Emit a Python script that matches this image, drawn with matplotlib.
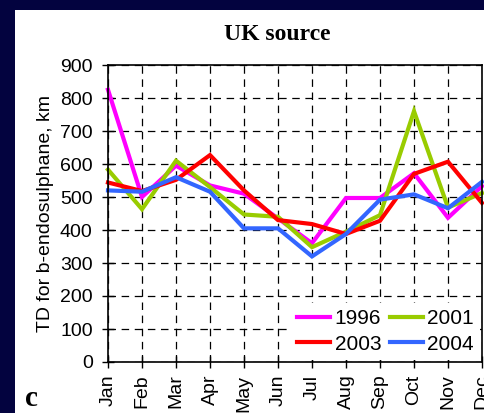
import matplotlib
matplotlib.use("Agg")
import matplotlib.pyplot as plt
from matplotlib.patches import Rectangle

# months on the x axis
MONTHS = ["Jan", "Feb", "Mar", "Apr", "May", "Jun",
          "Jul", "Aug", "Sep", "Oct", "Nov", "Dec"]

# TD values
td_1996 = [825, 500, 595, 535, 510, 435, 360, 497, 497, 572, 437, 533]
td_2001 = [583, 463, 610, 530, 447, 440, 348, 395, 445, 760, 468, 512]
td_2003 = [544, 518, 552, 627, 520, 430, 418, 388, 428, 570, 607, 482]
td_2004 = [520, 516, 560, 516, 405, 405, 320, 388, 492, 508, 466, 546]

YEARS = ["1996", "2001", "2003", "2004"]
COLORS = ["#FF00FF", "#99CC00", "#FF0000", "#3366FF"]

NAVY = "#03033f"


def main():
    fig = plt.figure(figsize=(4.85, 4.13), dpi=100, facecolor="white")

    # dark slide border on the left and top
    fig.patches.append(Rectangle((0, 0), 15 / 485, 1, transform=fig.transFigure,
                                 facecolor=NAVY, edgecolor="none", zorder=0))
    fig.patches.append(Rectangle((0, 1 - 10 / 413), 1, 10 / 413,
                                 transform=fig.transFigure,
                                 facecolor=NAVY, edgecolor="none", zorder=0))

    ax = fig.add_axes([108 / 485, 51 / 413, 374 / 485, 297 / 413])

    x = list(range(len(MONTHS)))
    series = [td_1996, td_2001, td_2003, td_2004]
    lines = []
    for vals, year, col in zip(series, YEARS, COLORS):
        ln, = ax.plot(x, vals, color=col, lw=3, label=year,
                      solid_joinstyle="miter", clip_on=False)
        lines.append(ln)

    ax.set_xlim(0, 11)
    ax.set_ylim(0, 900)
    ax.set_yticks(range(0, 901, 100))
    ax.set_xticks(x)
    ax.set_xticklabels(MONTHS, rotation=90, fontsize=14,
                       family="Liberation Sans")
    for lab in ax.get_yticklabels():
        lab.set_fontsize(14)
        lab.set_family("Liberation Sans")

    ax.grid(True, color="black", lw=0.9, linestyle=(0, (6, 4.5)))
    ax.set_axisbelow(True)
    ax.tick_params(direction="inout", length=8, width=1, pad=7)
    ax.tick_params(axis="x", pad=5)
    for sp in ax.spines.values():
        sp.set_linewidth(1.2)

    ax.set_ylabel("TD for b-endosulphane, km", fontsize=14,
                  family="Liberation Sans", labelpad=4)

    # legend: 1996 / 2001 on top row, 2003 / 2004 below
    order = [0, 2, 1, 3]
    leg = ax.legend([lines[i] for i in order], [YEARS[i] for i in order],
                    ncol=2, loc="lower right", frameon=True,
                    prop={"family": "Liberation Sans", "size": 15},
                    handlelength=1.6, handletextpad=0.2,
                    columnspacing=0.4, labelspacing=0.3,
                    borderaxespad=0.1, borderpad=0.3)
    leg.get_frame().set_edgecolor("none")
    leg.get_frame().set_facecolor("white")
    leg.get_frame().set_alpha(1)

    fig.text(277 / 485, 1 - 34 / 413, "UK source", ha="center", va="center",
             fontsize=17, fontweight="bold", family="Liberation Serif")
    fig.text(31 / 485, 1 - 398 / 413, "c", ha="center", va="center",
             fontsize=21, fontweight="bold", family="Liberation Serif")

    fig.savefig("out.png", dpi=100, facecolor="white")


main()
